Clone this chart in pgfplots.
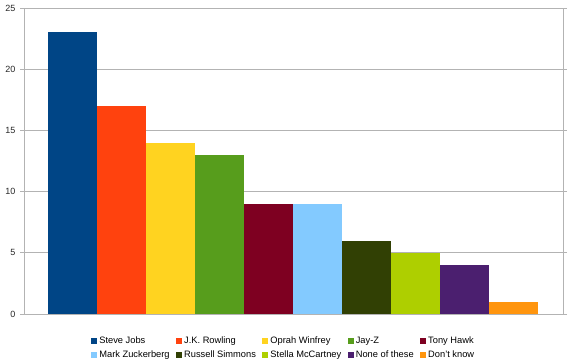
\documentclass[border=0pt]{standalone}
\usepackage{pgfplots}
\pgfplotsset{compat=1.18}
\usepackage{fontspec}
\setmainfont{Liberation Sans}
\definecolor{c1}{HTML}{004586}
\definecolor{c2}{HTML}{FF420E}
\definecolor{c3}{HTML}{FFD320}
\definecolor{c4}{HTML}{579D1C}
\definecolor{c5}{HTML}{7E0021}
\definecolor{c6}{HTML}{83CAFF}
\definecolor{c7}{HTML}{314004}
\definecolor{c8}{HTML}{AECF00}
\definecolor{c9}{HTML}{4B1F6F}
\definecolor{c10}{HTML}{FF950E}
\definecolor{gridc}{HTML}{B3B3B3}
\begin{document}
\begin{tikzpicture}
\useasboundingbox (-24pt,-47pt) rectangle (550pt,314pt);
\begin{axis}[
  scale only axis,
  width=539pt, height=306pt,
  xmin=-0.99, xmax=10.01,
  ymin=0, ymax=25,
  ytick={0,5,...,25},
  xtick=\empty,
  ybar, bar width=1, /pgf/bar shift=0pt,
  ymajorgrids,
  grid style={gridc, line width=0.6pt},
  axis line style={gridc, line width=0.6pt},
  y tick style={gridc, line width=0.6pt},
  tick align=outside,
  major tick length=4pt,
  every tick label/.append style={font=\fontsize{9}{11}\selectfont, text=black!85},
  /pgf/number format/assume math mode=true,
  yticklabel style={xshift=-1pt},
  legend columns=5,
  legend style={draw=none, at={(0.482,-0.062)}, anchor=north,
    font=\fontsize{9.3}{11}\selectfont, row sep=1pt,
    /tikz/every even column/.append style={column sep=4.5pt}},
  legend cell align=left,
  legend image code/.code={\fill[#1] (0pt,-3pt) rectangle (6pt,3pt);},
]
\addplot[fill=c1, draw=none] coordinates {(0,23)};
\addplot[fill=c2, draw=none] coordinates {(1,17)};
\addplot[fill=c3, draw=none] coordinates {(2,14)};
\addplot[fill=c4, draw=none] coordinates {(3,13)};
\addplot[fill=c5, draw=none] coordinates {(4,9)};
\addplot[fill=c6, draw=none] coordinates {(5,9)};
\addplot[fill=c7, draw=none] coordinates {(6,6)};
\addplot[fill=c8, draw=none] coordinates {(7,5)};
\addplot[fill=c9, draw=none] coordinates {(8,4)};
\addplot[fill=c10, draw=none] coordinates {(9,1)};
\legend{Steve Jobs, J.K. Rowling, Oprah Winfrey, Jay-Z, Tony Hawk, Mark Zuckerberg, Russell Simmons, Stella McCartney, None of these, Don't know}
\end{axis}
\end{tikzpicture}
\end{document}
